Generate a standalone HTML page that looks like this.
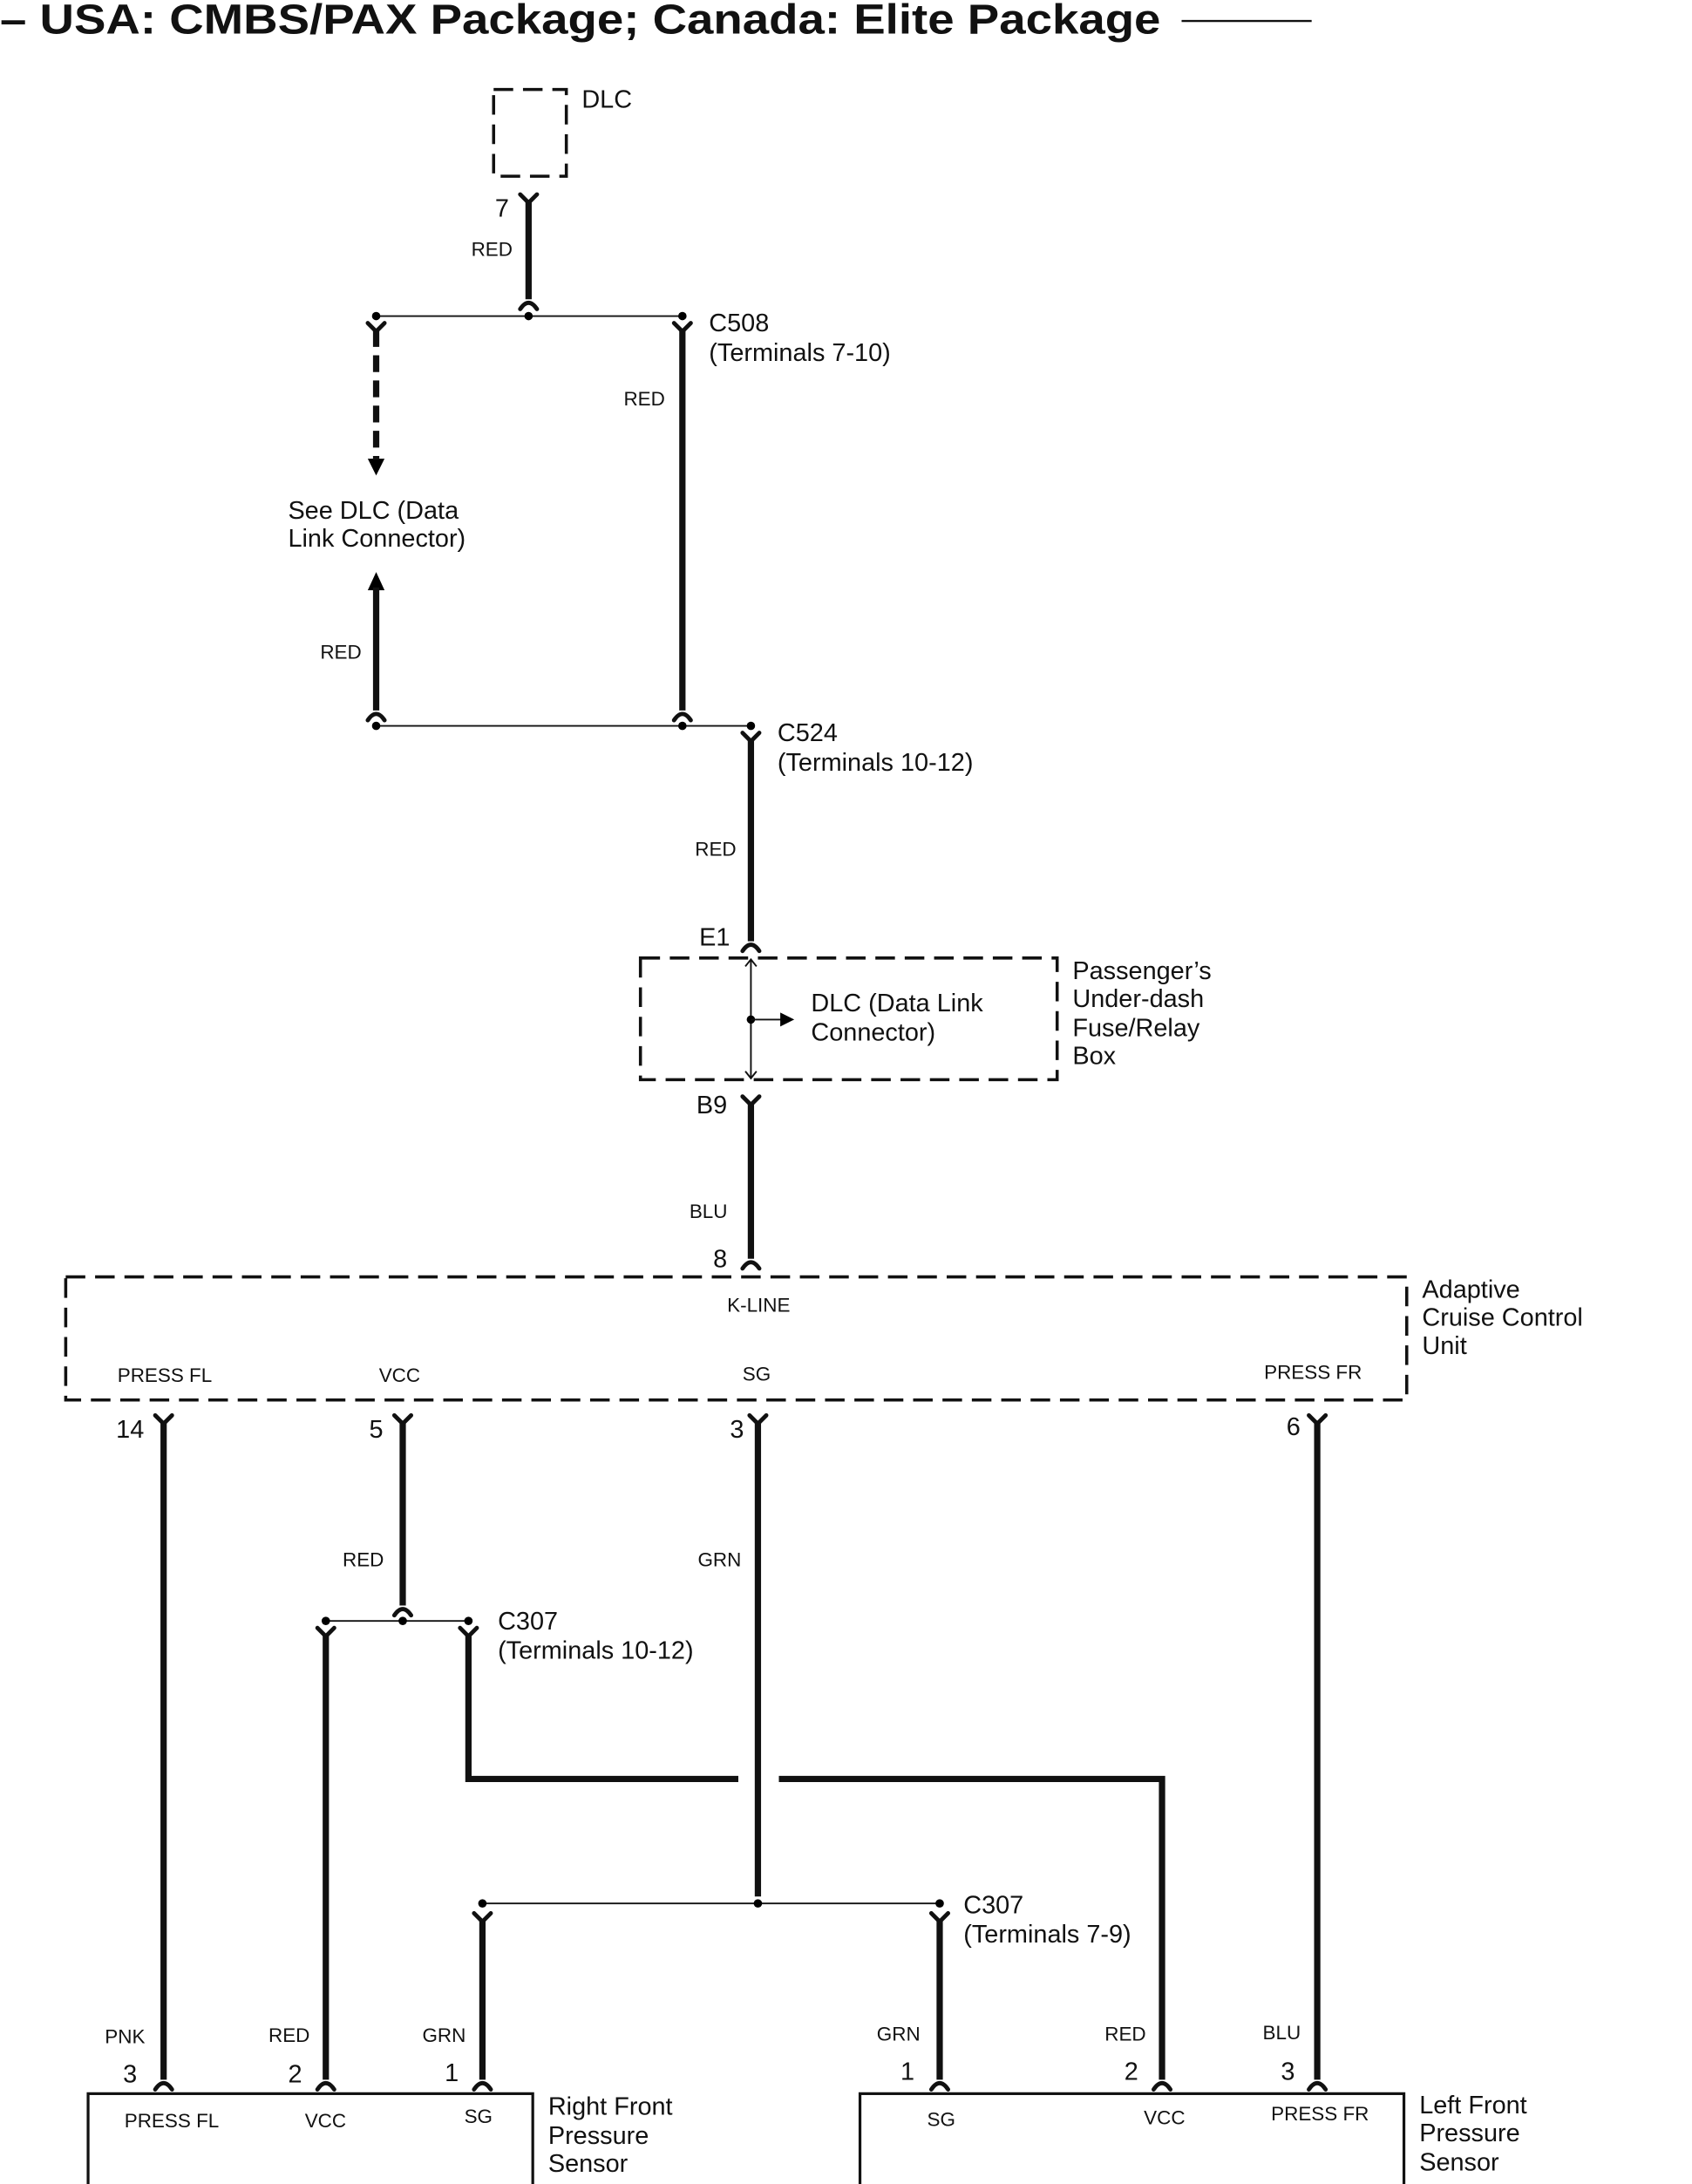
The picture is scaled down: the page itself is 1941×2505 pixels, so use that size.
<!DOCTYPE html>
<html><head><meta charset="utf-8"><style>
html,body{margin:0;padding:0;background:#fff;}
svg{display:block;}
text{font-family:"Liberation Sans",sans-serif;fill:#111;}
.l{font-size:18px;}
.s{font-size:14px;}
.w{stroke:#111;stroke-width:4.5;fill:none;}
.t{stroke:#111;stroke-width:1.2;fill:none;}
.d{stroke:#111;stroke-width:2.2;fill:none;stroke-dasharray:14,7;}
.c{stroke:#111;stroke-width:3;fill:none;stroke-linecap:round;}
</style></head><body>
<svg width="1941" height="2505" viewBox="0 0 1210 1561.6" preserveAspectRatio="none" xmlns="http://www.w3.org/2000/svg">
<defs>
<g id="m"><path class="c" d="M-6,-5 L0,1 L6,-5"/></g>
<g id="f"><path class="c" d="M-6,6 Q0,-3 6,6"/></g>
</defs>
<text x="0" y="24" textLength="830" lengthAdjust="spacingAndGlyphs" style="font-size:30px;font-weight:bold">– USA: CMBS/PAX Package; Canada: Elite Package</text>
<line x1="845" y1="15" x2="938" y2="15" stroke="#111" stroke-width="1.5"/>

<rect x="353" y="64" width="52" height="62" class="d" stroke-dasharray="10,6"/>
<text class="l" x="416" y="77">DLC</text>
<use href="#m" x="378" y="144"/>
<line class="w" x1="378" y1="144" x2="378" y2="214"/>
<use href="#f" x="378" y="215"/>
<text class="l" x="354" y="155">7</text>
<text class="s" x="337" y="183">RED</text>
<line class="t" x1="269" y1="226" x2="488" y2="226"/>
<circle cx="269" cy="226" r="3"/><circle cx="378" cy="226" r="3"/><circle cx="488" cy="226" r="3"/>
<use href="#m" x="269" y="236"/>
<line class="w" x1="269" y1="236" x2="269" y2="328" stroke-dasharray="12,6"/>
<path d="M263,328 L275,328 L269,340 Z"/>
<use href="#m" x="488" y="236"/>
<line class="w" x1="488" y1="236" x2="488" y2="508"/>
<use href="#f" x="488" y="509"/>
<text class="l" x="507" y="237">C508</text>
<text class="l" x="507" y="258">(Terminals 7-10)</text>
<text class="s" x="446" y="290">RED</text>
<text class="l" x="206" y="371">See DLC (Data</text>
<text class="l" x="206" y="391">Link Connector)</text>
<path d="M263,422 L275,422 L269,409 Z"/>
<line class="w" x1="269" y1="420" x2="269" y2="508"/>
<use href="#f" x="269" y="509"/>
<text class="s" x="229" y="471">RED</text>
<line class="t" x1="269" y1="519" x2="537" y2="519"/>
<circle cx="269" cy="519" r="3"/><circle cx="488" cy="519" r="3"/><circle cx="537" cy="519" r="3"/>
<use href="#m" x="537" y="529"/>
<line class="w" x1="537" y1="529" x2="537" y2="673"/>
<use href="#f" x="537" y="674"/>
<text class="l" x="556" y="530">C524</text>
<text class="l" x="556" y="551">(Terminals 10-12)</text>
<text class="s" x="497" y="612">RED</text>
<text class="l" x="500" y="676">E1</text>

<rect x="458" y="685" width="298" height="87" class="d"/>
<line class="t" x1="537" y1="686" x2="537" y2="771"/>
<path class="t" d="M533,691 L537,686 L541,691 M533,766 L537,771 L541,766"/>
<circle cx="537" cy="729" r="3"/>
<line class="t" x1="537" y1="729" x2="560" y2="729"/>
<path d="M558,724 L568,729 L558,734 Z"/>
<text class="l" x="580" y="723">DLC (Data Link</text>
<text class="l" x="580" y="744">Connector)</text>
<text class="l" x="767" y="700">Passenger’s</text>
<text class="l" x="767" y="720">Under-dash</text>
<text class="l" x="767" y="741">Fuse/Relay</text>
<text class="l" x="767" y="761">Box</text>
<text class="l" x="498" y="796">B9</text>
<use href="#m" x="537" y="789"/>
<line class="w" x1="537" y1="789" x2="537" y2="900"/>
<use href="#f" x="537" y="901"/>
<text class="s" x="493" y="871">BLU</text>
<text class="l" x="510" y="906">8</text>

<rect x="47" y="913" width="959" height="88" class="d"/>
<text class="s" x="520" y="938">K-LINE</text>
<text class="s" x="84" y="988">PRESS FL</text>
<text class="s" x="271" y="988">VCC</text>
<text class="s" x="531" y="987">SG</text>
<text class="s" x="904" y="986">PRESS FR</text>
<text class="l" x="1017" y="928">Adaptive</text>
<text class="l" x="1017" y="948">Cruise Control</text>
<text class="l" x="1017" y="968">Unit</text>

<text class="l" x="83" y="1028">14</text>
<text class="l" x="264" y="1028">5</text>
<text class="l" x="522" y="1028">3</text>
<text class="l" x="920" y="1026">6</text>
<use href="#m" x="117" y="1017"/><line class="w" x1="117" y1="1017" x2="117" y2="1487"/><use href="#f" x="117" y="1488"/>
<use href="#m" x="288" y="1017"/><line class="w" x1="288" y1="1017" x2="288" y2="1148"/><use href="#f" x="288" y="1149"/>
<use href="#m" x="542" y="1017"/><line class="w" x1="542" y1="1017" x2="542" y2="1356"/>
<use href="#m" x="942" y="1017"/><line class="w" x1="942" y1="1017" x2="942" y2="1487"/><use href="#f" x="942" y="1488"/>
<text class="s" x="245" y="1120">RED</text>
<text class="s" x="499" y="1120">GRN</text>

<line class="t" x1="233" y1="1159" x2="335" y2="1159"/>
<circle cx="233" cy="1159" r="3"/><circle cx="288" cy="1159" r="3"/><circle cx="335" cy="1159" r="3"/>
<text class="l" x="356" y="1165">C307</text>
<text class="l" x="356" y="1186">(Terminals 10-12)</text>
<use href="#m" x="233" y="1169"/><line class="w" x1="233" y1="1169" x2="233" y2="1487"/><use href="#f" x="233" y="1488"/>
<use href="#m" x="335" y="1169"/>
<path class="w" d="M335,1169 L335,1272 L528,1272"/>
<path class="w" d="M557,1272 L831,1272 L831,1487"/>
<use href="#f" x="831" y="1488"/>

<line class="t" x1="345" y1="1361" x2="672" y2="1361"/>
<circle cx="345" cy="1361" r="3"/><circle cx="542" cy="1361" r="3"/><circle cx="672" cy="1361" r="3"/>
<text class="l" x="689" y="1368">C307</text>
<text class="l" x="689" y="1389">(Terminals 7-9)</text>
<use href="#m" x="345" y="1373"/><line class="w" x1="345" y1="1373" x2="345" y2="1487"/><use href="#f" x="345" y="1488"/>
<use href="#m" x="672" y="1373"/><line class="w" x1="672" y1="1373" x2="672" y2="1487"/><use href="#f" x="672" y="1488"/>

<text class="s" x="75" y="1461">PNK</text>
<text class="s" x="192" y="1460">RED</text>
<text class="s" x="302" y="1460">GRN</text>
<text class="l" x="88" y="1489">3</text>
<text class="l" x="206" y="1489">2</text>
<text class="l" x="318" y="1488">1</text>
<text class="s" x="627" y="1459">GRN</text>
<text class="s" x="790" y="1459">RED</text>
<text class="s" x="903" y="1458">BLU</text>
<text class="l" x="644" y="1487">1</text>
<text class="l" x="804" y="1487">2</text>
<text class="l" x="916" y="1487">3</text>

<rect x="63" y="1497" width="318" height="72" fill="none" stroke="#111" stroke-width="2"/>
<rect x="615" y="1497" width="389" height="72" fill="none" stroke="#111" stroke-width="2"/>
<text class="s" x="89" y="1521">PRESS FL</text>
<text class="s" x="218" y="1521">VCC</text>
<text class="s" x="332" y="1518">SG</text>
<text class="l" x="392" y="1512">Right Front</text>
<text class="l" x="392" y="1533">Pressure</text>
<text class="l" x="392" y="1553">Sensor</text>
<text class="s" x="663" y="1520">SG</text>
<text class="s" x="818" y="1519">VCC</text>
<text class="s" x="909" y="1516">PRESS FR</text>
<text class="l" x="1015" y="1511">Left Front</text>
<text class="l" x="1015" y="1531">Pressure</text>
<text class="l" x="1015" y="1552">Sensor</text>
</svg>
</body></html>
